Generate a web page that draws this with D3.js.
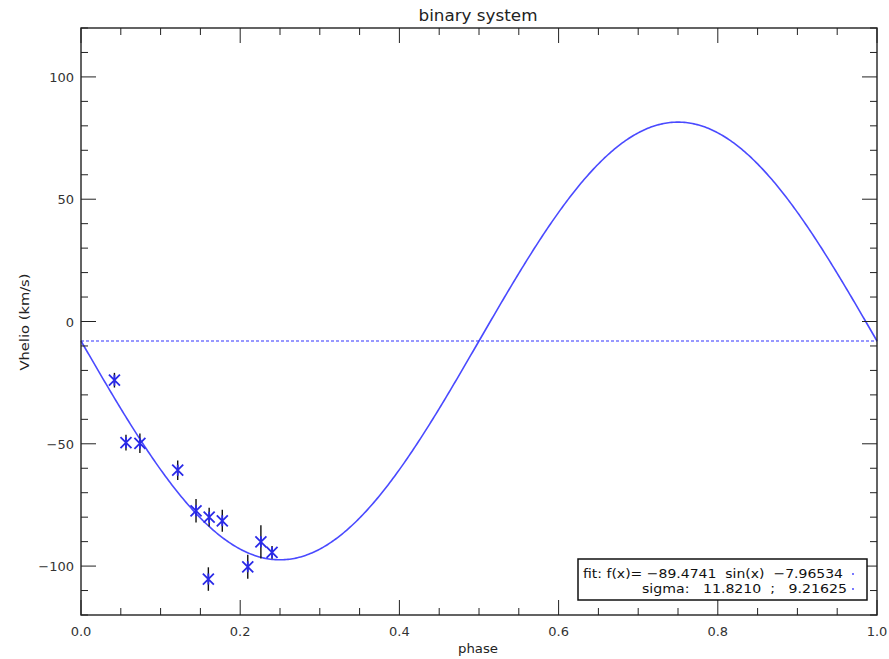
<!DOCTYPE html>
<html><head><meta charset="utf-8">
<script src="https://cdn.jsdelivr.net/npm/d3@7"></script>
<style>body{margin:0;background:#fff}text{font-family:"DejaVu Sans","Liberation Sans",Arial,sans-serif}</style>
</head><body><svg id="c" width="889" height="659"></svg>
<script>
const phase = [0.042, 0.0565, 0.074, 0.1215, 0.1445, 0.161, 0.1775, 0.160, 0.2095, 0.226, 0.240];
const vhelio = [-24.0, -49.5, -49.8, -60.8, -77.4, -80.0, -81.5, -105.3, -100.3, -90.1, -94.4];
const vErr = [3.0, 3.2, 4.0, 4.0, 4.8, 3.8, 4.5, 4.8, 4.9, 6.8, 2.6];
const fitA = -89.4741, fitB = -7.96534;
const xTicks = [0, 0.2, 0.4, 0.6, 0.8, 1.0];
const yTicks = [-100, -50, 0, 50, 100];
const legendLines = ["fit: f(x)= \u221289.4741  sin(x)  \u22127.96534", "sigma:   11.8210  ;   9.21625"];

const svg = d3.select("#c");
const L = 81, R = 877, T = 28, B = 615;
const x = d3.scaleLinear().domain([0, 1]).range([L, R]);
const y = d3.scaleLinear().domain([-120, 120]).range([B, T]);

// fit curve
const curve = d3.range(0, 1.0001, 0.002).map(p => [p, fitA * Math.sin(2 * Math.PI * p) + fitB]);
svg.append("path").datum(curve)
  .attr("d", d3.line().x(d => x(d[0])).y(d => y(d[1])))
  .attr("fill", "none").attr("stroke", "#4a4aff").attr("stroke-width", 1.6);
svg.append("line").attr("x1", L).attr("x2", R).attr("y1", y(fitB)).attr("y2", y(fitB))
  .attr("stroke", "#3030ff").attr("stroke-width", 1.2).attr("stroke-dasharray", "3,2");

// error bars
const pts = phase.map((p, i) => ({p, v: vhelio[i], e: vErr[i]}));
svg.append("g").selectAll("line").data(pts).join("line")
  .attr("x1", d => x(d.p)).attr("x2", d => x(d.p))
  .attr("y1", d => y(d.v + d.e)).attr("y2", d => y(d.v - d.e))
  .attr("stroke", "#111").attr("stroke-width", 1.4);
// asterisk markers
const s = 5.5;
const g = svg.append("g").selectAll("g").data(pts).join("g")
  .attr("transform", d => `translate(${x(d.p)},${y(d.v)})`);
g.append("path").attr("d", `M${-s},${-s}L${s},${s}M${-s},${s}L${s},${-s}M0,${-s}L0,${s}`)
  .attr("stroke", "#2a2ae8").attr("stroke-width", 1.8).attr("fill", "none");

// frame
svg.append("rect").attr("x", L).attr("y", T).attr("width", R - L).attr("height", B - T)
  .attr("fill", "none").attr("stroke", "#222").attr("stroke-width", 1.4);

const tc = "#222";
function isMajor(v, step) { return Math.abs(v / step - Math.round(v / step)) < 1e-6; }
d3.range(0, 1.0001, 0.05).forEach(v => {
  const len = isMajor(v, 0.2) ? 15 : 7;
  svg.append("line").attr("x1", x(v)).attr("x2", x(v)).attr("y1", B).attr("y2", B - len).attr("stroke", tc).attr("stroke-width", 1);
  svg.append("line").attr("x1", x(v)).attr("x2", x(v)).attr("y1", T).attr("y2", T + len).attr("stroke", tc).attr("stroke-width", 1);
});
d3.range(-120, 120.001, 10).forEach(v => {
  const len = isMajor(v, 50) ? 15 : 7;
  svg.append("line").attr("y1", y(v)).attr("y2", y(v)).attr("x1", L).attr("x2", L + len).attr("stroke", tc).attr("stroke-width", 1);
  svg.append("line").attr("y1", y(v)).attr("y2", y(v)).attr("x1", R).attr("x2", R - len).attr("stroke", tc).attr("stroke-width", 1);
});
svg.append("g").selectAll("text").data(xTicks).join("text")
  .attr("x", d => x(d)).attr("y", 636).attr("text-anchor", "middle")
  .attr("font-size", 13).attr("fill", "#333").text(d => d.toFixed(1));
svg.append("g").selectAll("text").data(yTicks).join("text")
  .attr("x", 74).attr("y", d => y(d) + 5).attr("text-anchor", "end")
  .attr("font-size", 13).attr("fill", "#333").text(d => d < 0 ? "\u2212" + Math.abs(d) : d);

svg.append("text").attr("x", 478).attr("y", 21).attr("text-anchor", "middle").attr("font-size", 15).attr("fill", "#222")
  .attr("textLength", 119).attr("lengthAdjust", "spacingAndGlyphs").text("binary system");
svg.append("text").attr("x", 478).attr("y", 653).attr("text-anchor", "middle").attr("font-size", 13).attr("fill", "#222")
  .attr("textLength", 40).attr("lengthAdjust", "spacingAndGlyphs").text("phase");
svg.append("text").attr("transform", "translate(29,322) rotate(-90)").attr("text-anchor", "middle").attr("font-size", 13).attr("fill", "#222")
  .attr("textLength", 97).attr("lengthAdjust", "spacingAndGlyphs").text("Vhelio  (km/s)");

// legend box
svg.append("rect").attr("x", 578).attr("y", 559).attr("width", 289).attr("height", 41)
  .attr("fill", "#fff").attr("stroke", "#111").attr("stroke-width", 1.5);
svg.append("text").attr("x", 583).attr("y", 578).attr("font-size", 13).attr("fill", "#111").style("white-space", "pre")
  .attr("textLength", 260).attr("lengthAdjust", "spacingAndGlyphs").text(legendLines[0]);
svg.append("text").attr("x", 642).attr("y", 593).attr("font-size", 13).attr("fill", "#111").style("white-space", "pre")
  .attr("textLength", 205).attr("lengthAdjust", "spacingAndGlyphs").text(legendLines[1]);
[578, 593].forEach(yy => svg.append("circle").attr("cx", 853).attr("cy", yy - 4).attr("r", 0.9).attr("fill", "#3a3aff"));
</script></body></html>
